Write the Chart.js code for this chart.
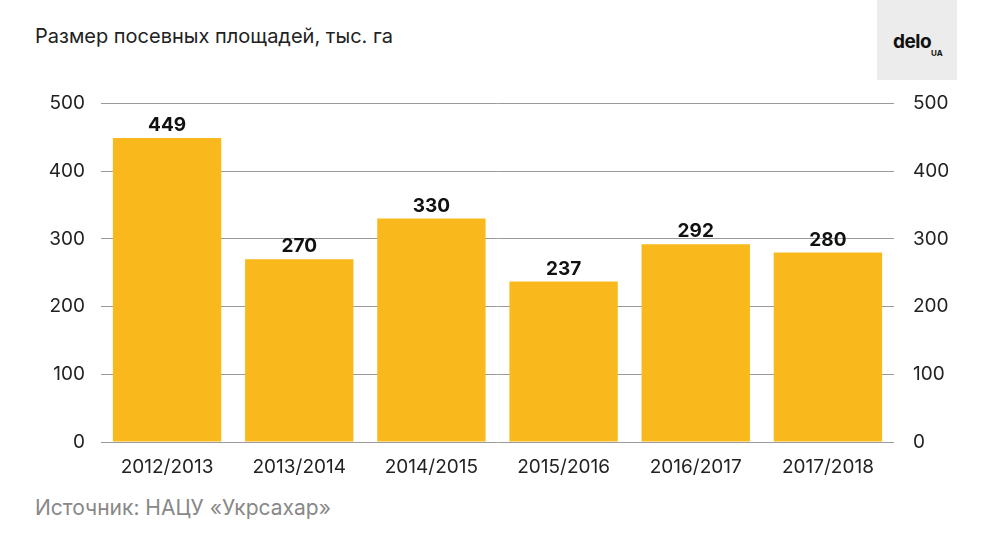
<!DOCTYPE html>
<html><head><meta charset="utf-8">
<script src="https://cdn.jsdelivr.net/npm/chart.js@4"></script>
<style>
body{margin:0;width:1000px;height:550px;background:#fff;position:relative;font-family:Inter,Roboto,sans-serif;overflow:hidden}
#t{position:absolute;left:35px;top:24px;font-size:20px;color:#222}
#s{position:absolute;left:35px;top:495px;font-size:21px;color:#888}
#logo{position:absolute;left:877px;top:0;width:80px;height:80px;background:#ececec}
#logo b{position:absolute;left:16px;top:30px;font-size:19px;color:#111;letter-spacing:-0.5px}
#logo i{position:absolute;left:54px;top:48px;font-size:8px;font-style:normal;font-weight:700;color:#111}
#w{position:absolute;left:0;top:76px;width:1000px;height:404px}
</style></head><body>
<div id="t">Размер посевных площадей, тыс. га</div>
<div id="logo"><b>delo</b><i>UA</i></div>
<div id="w"><canvas id="c"></canvas></div>
<div id="s">Источник: НАЦУ «Укрсахар»</div>
<script>
const categories=["2012/2013","2013/2014","2014/2015","2015/2016","2016/2017","2017/2018"];
const values=[449,270,330,237,292,280];
const ticks=[0,100,200,300,400,500];
const font={family:"Inter, Roboto, sans-serif",size:19};
new Chart(document.getElementById('c'),{
type:'bar',
data:{labels:categories,datasets:[{data:values,backgroundColor:'#F9B91C',categoryPercentage:0.82,barPercentage:1}]},
options:{responsive:true,maintainAspectRatio:false,animation:false,
layout:{padding:{top:6}},
plugins:{legend:{display:false},tooltip:{enabled:false}},
scales:{
x:{grid:{display:false},border:{display:false},ticks:{color:'#222',font,padding:6},afterFit(a){a.height=38;}},
y:{min:0,max:500,afterBuildTicks(a){a.ticks=ticks.map(v=>({value:v}));},grid:{color:'#9a9a9a',drawTicks:false},border:{display:false},ticks:{color:'#222',font,padding:16},afterFit(a){a.width=101;}},
y2:{position:'right',min:0,max:500,afterBuildTicks(a){a.ticks=ticks.map(v=>({value:v}));},grid:{display:false},border:{display:false},ticks:{color:'#222',font,padding:11},afterFit(a){a.width=106;}}
}},
plugins:[{id:'lbl',afterDatasetsDraw(ch){const c=ch.ctx;c.save();c.font='bold 19px Inter, Roboto, sans-serif';c.fillStyle='#111';c.textAlign='center';c.textBaseline='bottom';
ch.getDatasetMeta(0).data.forEach((b,i)=>c.fillText(values[i],b.x,b.y-3));c.restore();}}]
});
</script></body></html>
